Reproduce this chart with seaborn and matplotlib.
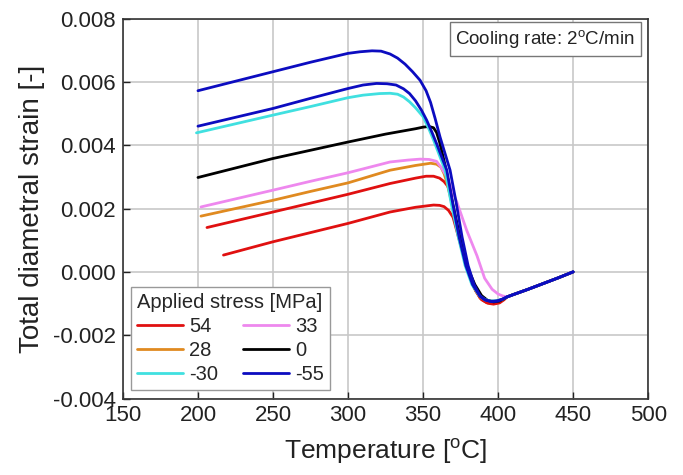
import numpy as np
import pandas as pd
import matplotlib
matplotlib.use("Agg")
import matplotlib.pyplot as plt
import seaborn as sns

# ---- data ----
stress_labels = ["54", "28", "-30", "33", "0", "-55"]
stress_colors = {"54": "#e01010", "28": "#e08a20", "-30": "#40e0e0",
                 "33": "#ee88ee", "0": "#000000", "-55": "#0c0cc0"}

tail_T = [406, 410, 420, 430, 440, 450]
tail_s = [-0.00079, -0.00072, -0.00055, -0.00037, -0.00019, 0.0]

red_lo_T = [217, 250, 275, 300, 328, 345, 357, 361, 364, 367, 370, 373, 377, 381, 385, 389,
            393, 397, 401, 404]
red_lo_s = [0.00053, 0.00095, 0.00124, 0.00153, 0.00189, 0.00204, 0.00211, 0.0021, 0.00206,
            0.00194, 0.00172, 0.0012, 0.0005, -0.0001, -0.0006, -0.00088, -0.00099, -0.00102,
            -0.00098, -0.00088]

red_hi_T = [206, 250, 275, 300, 328, 345, 352, 357, 361, 364, 366.5, 368.5, 371, 375, 379.5,
            384, 388, 392, 396, 400, 403]
red_hi_s = [0.0014, 0.00189, 0.00217, 0.00245, 0.00279, 0.00296, 0.00302, 0.00302, 0.00296,
            0.00285, 0.0027, 0.0024, 0.0018, 0.0009, 0.0001, -0.0005, -0.00083, -0.00096,
            -0.001, -0.00097, -0.00088]

orange_T = [202, 250, 275, 300, 328, 345, 355, 359, 362, 364, 366, 370, 375, 379.5, 384, 388,
            392, 397, 402]
orange_s = [0.00176, 0.00226, 0.00254, 0.00281, 0.00321, 0.00336, 0.00343, 0.0034, 0.0033,
            0.0031, 0.0028, 0.0020, 0.0009, 0.0001, -0.0005, -0.0008, -0.0009, -0.00093,
            -0.0009]

pink_T = [202, 250, 275, 300, 328, 340, 348, 354, 359, 362, 366, 369, 372.4, 379, 386, 391,
          396, 400, 403]
pink_s = [0.00205, 0.00258, 0.00286, 0.00313, 0.00347, 0.00353, 0.00356, 0.00355, 0.00349,
          0.0033, 0.003, 0.0026, 0.00222, 0.00132, 0.0005, -0.0002, -0.00055, -0.0007,
          -0.00076]

black_T = [200, 250, 275, 300, 325, 345, 350, 354, 357, 359, 361, 363, 365, 370, 375, 380,
           384.5, 389, 393, 397, 401, 404]
black_s = [0.00298, 0.00358, 0.00384, 0.0041, 0.00435, 0.00452, 0.00457, 0.00459, 0.00455,
           0.0044, 0.0041, 0.0037, 0.0033, 0.0021, 0.001, 0.0001, -0.0004, -0.00075, -0.0009,
           -0.00095, -0.00092, -0.00085]

cyan_T = [199, 250, 275, 300, 310, 321, 328, 333, 337, 341, 345, 350, 354, 357, 364.7, 369,
          373.5, 378, 382.5, 387.5, 391, 395, 399, 403]
cyan_s = [0.00439, 0.00495, 0.00522, 0.0055, 0.00558, 0.00563, 0.00564, 0.00561, 0.00552,
          0.00537, 0.00518, 0.0049, 0.0045, 0.00416, 0.00321, 0.0021, 0.0011, 0.0002, -0.0004,
          -0.00075, -0.00087, -0.00092, -0.00091, -0.00086]

blue_lo_T = [200, 250, 275, 300, 310, 319, 326, 332, 337, 341, 345, 349, 352.4, 356, 359,
             365.8, 370, 374, 378.5, 383, 388, 391, 395, 399, 403]
blue_lo_s = [0.0046, 0.00516, 0.00548, 0.00579, 0.0059, 0.00595, 0.00594, 0.0059, 0.00578,
             0.00563, 0.0054, 0.0051, 0.00479, 0.0044, 0.00405, 0.00321, 0.0021, 0.0011,
             0.0002, -0.0004, -0.00078, -0.00088, -0.00093, -0.00092, -0.00086]

blue_hi_T = [200, 250, 275, 300, 308, 316, 322, 328, 333, 338, 343, 348, 352, 355, 358,
             361.3, 368, 372, 376, 380, 384, 388, 392, 396, 400, 403]
blue_hi_s = [0.00572, 0.00632, 0.00662, 0.0069, 0.00695, 0.00698, 0.00697, 0.00688, 0.00675,
             0.00656, 0.00632, 0.00605, 0.00572, 0.00535, 0.00485, 0.00426, 0.00321, 0.0022,
             0.0011, 0.0002, -0.0004, -0.00076, -0.0009, -0.00094, -0.00092, -0.00086]

curves = [
    ("54", red_lo_T, red_lo_s, False),
    ("54", red_hi_T, red_hi_s, True),
    ("28", orange_T, orange_s, True),
    ("33", pink_T, pink_s, True),
    ("0", black_T, black_s, True),
    ("-30", cyan_T, cyan_s, True),
    ("-55", blue_lo_T, blue_lo_s, False),
    ("-55", blue_hi_T, blue_hi_s, True),
]

x_ticks = [150, 200, 250, 300, 350, 400, 450, 500]
y_ticks = [-0.004, -0.002, 0.000, 0.002, 0.004, 0.006, 0.008]

# ---- style ----
sns.set_theme(style="white")
plt.rcParams["font.family"] = ["Liberation Sans", "DejaVu Sans"]
plt.rcParams["mathtext.fontset"] = "custom"
plt.rcParams["mathtext.rm"] = "Liberation Sans"

fig = plt.figure(figsize=(6.83, 4.75), dpi=100)
ax = fig.add_axes([0.180, 0.161, 0.769, 0.800])

handles = {}
for lab, T, s, show in curves:
    df = pd.DataFrame({"T": list(T) + tail_T, "s": list(s) + tail_s})
    sns.lineplot(data=df, x="T", y="s", ax=ax, color=stress_colors[lab],
                 linewidth=2.0, sort=False, estimator=None, legend=False)
    ax.lines[-1].set_solid_joinstyle("round")
    if show:
        handles[lab] = ax.lines[-1]

ax.set_xlim(150, 500)
ax.set_ylim(-0.004, 0.008)
ax.set_xticks(x_ticks)
ax.set_yticks(y_ticks)
ax.set_yticklabels([f"{v:.3f}" for v in y_ticks])
ax.grid(True, color="#c8c8c8", linewidth=1.2)
ax.set_axisbelow(True)
for sp in ax.spines.values():
    sp.set_color("#333333")
    sp.set_linewidth(1.2)
ax.tick_params(direction="in", length=5, width=1, labelsize=16, colors="#222222",
               pad=5, bottom=True, left=True)
ax.set_xlabel("Temperature [$^{\\mathregular{o}}$C]", fontsize=19, labelpad=7, color="#222222")
ax.set_ylabel("Total diametral strain [-]", fontsize=20, labelpad=6, color="#222222")

leg = ax.legend([handles[l] for l in stress_labels], stress_labels, ncol=2,
                title="Applied stress [MPa]", loc="lower left",
                bbox_to_anchor=(0.0, 0.0), borderaxespad=0.4, fontsize=14.5,
                title_fontsize=14.5, frameon=True, fancybox=False,
                edgecolor="#999999", framealpha=1, handlelength=2.3,
                handletextpad=0.3, columnspacing=1.2, labelspacing=0.25,
                borderpad=0.3, alignment="left")
leg.get_frame().set_linewidth(1.0)

ax.text(0.975, 0.975, "Cooling rate: 2$^{\\mathregular{o}}$C/min", transform=ax.transAxes,
        ha="right", va="top", fontsize=13.5, color="#222222",
        bbox=dict(boxstyle="square,pad=0.3", facecolor="white", edgecolor="#777777", linewidth=1.0))

fig.savefig("out.png", dpi=100)
